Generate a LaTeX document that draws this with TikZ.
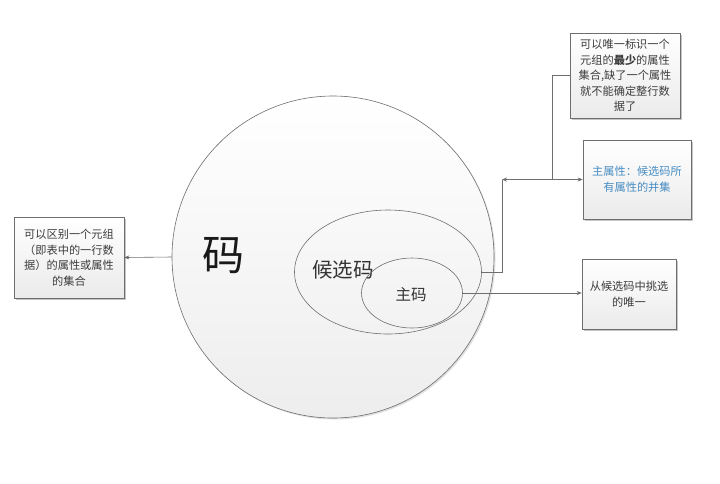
\documentclass[tikz,border=0pt]{standalone}
\usepackage{fontspec}
\setmainfont{Noto Sans CJK SC}
\usetikzlibrary{shapes.geometric,shadows,arrows.meta}
\definecolor{linegray}{RGB}{110,110,110}
\definecolor{txtgray}{RGB}{60,60,60}
\definecolor{attrblue}{RGB}{70,140,195}
\begin{document}
\begin{tikzpicture}[x=1pt,y=-1pt,
  infobox/.style={draw=linegray, line width=0.6pt, top color=white, bottom color=black!8,
    drop shadow={shadow xshift=2pt, shadow yshift=-2pt, opacity=0.45},
    align=center, font=\fontsize{11.2}{15.5}\selectfont, text=txtgray, inner sep=1pt},
  conn/.style={draw=linegray, line width=0.6pt},
  arr/.style={conn, -{Stealth[length=5pt,width=4pt]}},
  ring/.style={draw=linegray, line width=0.6pt, inner sep=0pt}
]
\useasboundingbox (0,0) rectangle (720,483);
\fill[white] (0,0) rectangle (720,483);

% big circle
\node[circle, ring, minimum size=322pt, top color=white, bottom color=black!7,
  drop shadow={shadow xshift=1.5pt, shadow yshift=-1.5pt, opacity=0.25}] (ma) at (333,257) {};
\node[font=\fontsize{42}{42}\selectfont, text=black!90] (maT) at (223,256) {码};

% candidate key ellipse
\node[ellipse, ring, minimum width=187pt, minimum height=124pt] (cand) at (388,272) {};
\node[font=\fontsize{20.5}{20.5}\selectfont, text=black!80] (candT) at (343,270) {候选码};

% primary key ellipse
\node[ellipse, ring, minimum width=101pt, minimum height=70pt] (pk) at (412,293) {};
\node[font=\fontsize{15.5}{15.5}\selectfont, text=black!80] (pkT) at (411,295) {主码};

% boxes
\node[infobox, minimum width=110pt, minimum height=81pt] (leftbox) at (69,257.5)
  {可以区别一个元组\\（即表中的一行数\\据）的属性或属性\\的集合};
\node[infobox, minimum width=110pt, minimum height=85pt] (topbox) at (625,75.5)
  {可以唯一标识一个\\元组的\textbf{最少}的属性\\集合,缺了一个属性\\就不能确定整行数\\据了};
\node[infobox, minimum width=108pt, minimum height=79pt, text=attrblue] (attrbox) at (637,179.5)
  {主属性：候选码所\\有属性的并集};
\node[infobox, minimum width=94pt, minimum height=70pt] (pickbox) at (629,294)
  {从候选码中挑选\\的唯一};

% connectors
\coordinate (jl) at (502,179.5);
\coordinate (jr) at (552,179.5);
\draw[arr] (ma.west) -- (leftbox.east);
\draw[conn] (cand.east) -| (jl);
\draw[arr] (jr) -- (jl);
\draw[conn] (topbox.west) -| (jr);
\draw[arr] (jr) -- (attrbox.west);
\draw[arr] (pk.east) -- (pk.east -| pickbox.west);
\end{tikzpicture}
\end{document}
